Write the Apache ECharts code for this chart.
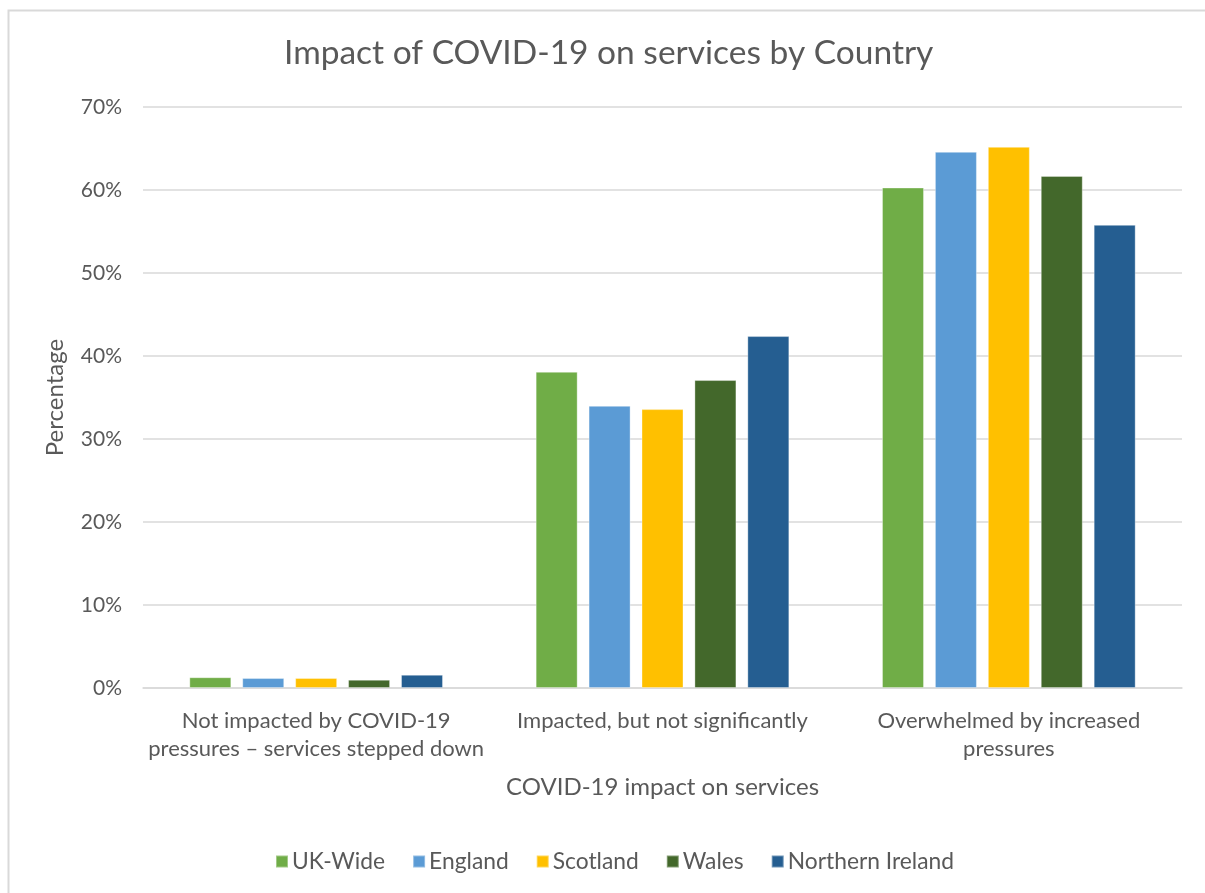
<!DOCTYPE html>
<html>
<head>
<meta charset="utf-8">
<title>Impact of COVID-19 on services by Country</title>
<script src="https://cdn.jsdelivr.net/npm/echarts@6/dist/echarts.min.js"></script>
<style>
  html, body { margin: 0; padding: 0; background: #ffffff; }
  #chart { width: 1205px; height: 893px; }
</style>
</head>
<body>
<div id="chart"></div>
<script>
// Impact categories (x axis)
const categories = [
  'Not impacted by COVID-19\npressures \u2013 services stepped down',
  'Impacted, but not significantly',
  'Overwhelmed by increased\npressures'
];

// Percentage of services per country, in category order
const ukWide = [1.3, 38.1, 60.3];
const england = [1.2, 34.0, 64.6];
const scotland = [1.2, 33.6, 65.2];
const wales = [1.0, 37.1, 61.7];
const northernIreland = [1.6, 42.4, 55.8];

const seriesNames = ['UK-Wide', 'England', 'Scotland', 'Wales', 'Northern Ireland'];
const seriesValues = [ukWide, england, scotland, wales, northernIreland];
const seriesColors = ['#70AD47', '#5B9BD5', '#FFC000', '#43682B', '#255E91'];

const FONT = 'Lato, "Open Sans", sans-serif';
const TEXT = '#595959';

const chart = echarts.init(document.getElementById('chart'), null, { renderer: 'canvas' });

chart.setOption({
  animation: false,
  backgroundColor: '#ffffff',
  textStyle: { fontFamily: FONT, color: TEXT },
  graphic: [{
    type: 'rect',
    left: 6, top: 8,
    shape: { width: 1400, height: 1000 },
    style: { fill: 'none', stroke: '#d9d9d9', lineWidth: 2 },
    silent: true, z: -10
  }],
  title: {
    text: 'Impact of COVID-19 on services by Country',
    left: 279,
    top: 31,
    textStyle: { fontFamily: FONT, fontSize: 33.5, fontWeight: 'normal', color: TEXT }
  },
  grid: { left: 143, right: 23, top: 107, bottom: 205, containLabel: false },
  legend: {
    data: seriesNames,
    left: 270,
    top: 845,
    icon: 'rect',
    itemWidth: 12,
    itemHeight: 12,
    itemGap: 27,
    textStyle: { fontFamily: FONT, fontSize: 22.8, color: TEXT, padding: [0, 0, 0, -1] }
  },
  xAxis: {
    type: 'category',
    data: categories,
    name: 'COVID-19 impact on services',
    nameLocation: 'middle',
    nameGap: 87,
    nameTextStyle: { fontFamily: FONT, fontSize: 24, color: TEXT },
    axisLine: { lineStyle: { color: '#d9d9d9', width: 1.5 } },
    axisTick: { show: false },
    axisLabel: {
      fontFamily: FONT, fontSize: 22, color: TEXT,
      lineHeight: 28, margin: 19, interval: 0, align: 'center'
    }
  },
  yAxis: {
    type: 'value',
    min: 0, max: 70, interval: 10,
    name: 'Percentage',
    nameLocation: 'middle',
    nameGap: 76,
    nameRotate: 90,
    nameTextStyle: { fontFamily: FONT, fontSize: 24, color: TEXT },
    axisLine: { show: false },
    axisTick: { show: false },
    splitLine: { lineStyle: { color: '#d9d9d9', width: 1.5 } },
    axisLabel: {
      fontFamily: FONT, fontSize: 21, color: TEXT, margin: 21,
      formatter: '{value}%'
    }
  },
  series: seriesNames.map((name, i) => ({
    name: name,
    type: 'bar',
    data: seriesValues[i],
    barWidth: 42,
    barGap: '26%',
    itemStyle: { color: seriesColors[i], borderColor: 'rgba(255,255,255,0.35)', borderWidth: 1 }
  }))
});
</script>
</body>
</html>
